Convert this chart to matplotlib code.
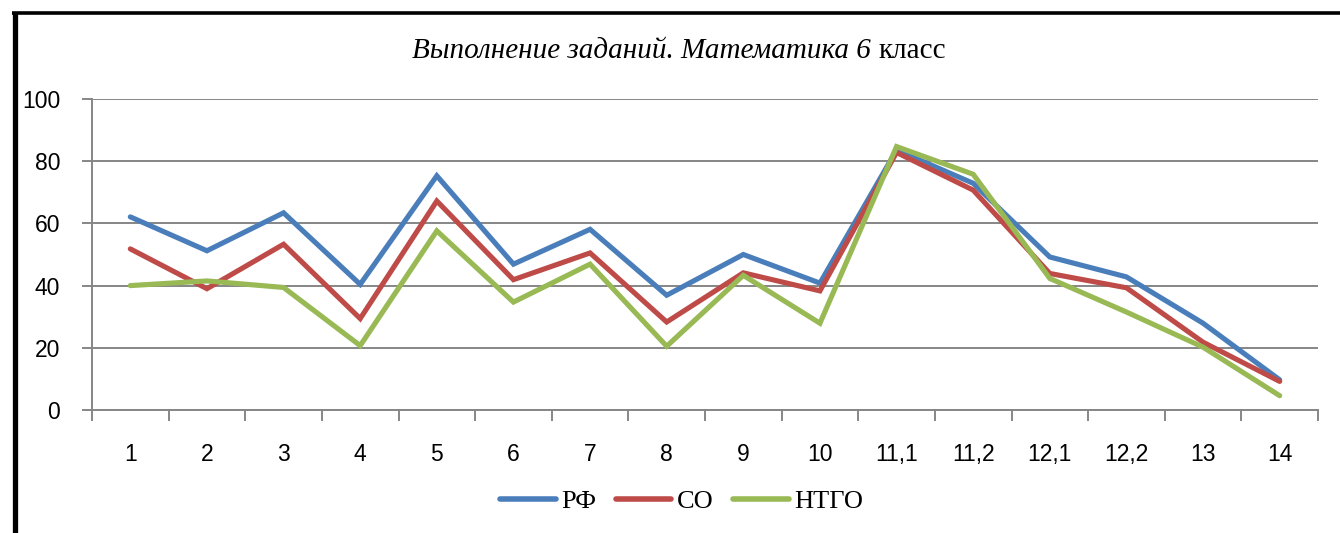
import matplotlib
matplotlib.use("Agg")
import matplotlib.pyplot as plt
from matplotlib.lines import Line2D

categories = ["1", "2", "3", "4", "5", "6", "7", "8", "9", "10",
              "11,1", "11,2", "12,1", "12,2", "13", "14"]
rf   = [62.1, 51.2, 63.4, 40.4, 75.3, 46.9, 58.1, 36.9, 50.0, 40.8,
        83.6, 72.9, 49.2, 42.8, 27.9, 9.7]
so   = [51.8, 39.0, 53.3, 29.4, 67.2, 41.9, 50.5, 28.3, 44.1, 38.3,
        82.8, 70.7, 43.9, 39.3, 21.8, 9.2]
ntgo = [40.0, 41.5, 39.4, 20.7, 57.6, 34.7, 46.9, 20.5, 43.3, 27.9,
        84.7, 75.8, 42.3, 31.5, 20.2, 4.6]
series_names = ["РФ", "СО", "НТГО"]

BLUE, RED, GREEN = "#4a7ebb", "#be4b48", "#98b954"
GRID = "#868686"
TICKFONT = "Liberation Sans"
SERIF = "Liberation Serif"

W, H = 1340, 533
fig = plt.figure(figsize=(W / 100, H / 100), dpi=100)
ax = fig.add_axes([92 / W, 1 - 410 / H, (1318 - 92) / W, (410 - 99) / H])

x = list(range(len(categories)))
for vals, col, name in zip([rf, so, ntgo], [BLUE, RED, GREEN], series_names):
    ax.plot(x, vals, color=col, lw=3.7, label=name, solid_joinstyle="miter",
            solid_capstyle="round")

ax.set_xlim(-0.5, len(categories) - 0.5)
ax.set_ylim(0, 100)
ax.set_yticks(range(0, 101, 20))
ax.yaxis.grid(True, color=GRID, lw=1.4)
ax.set_axisbelow(True)
for s in ["top", "right"]:
    ax.spines[s].set_visible(False)
for s in ["left", "bottom"]:
    ax.spines[s].set_color(GRID)
    ax.spines[s].set_linewidth(1.4)

ax.set_xticks(x)
ax.set_xticklabels(categories)
ax.set_xticks([i - 0.5 for i in range(len(categories) + 1)], minor=True)
ax.tick_params(axis="x", which="major", length=0, pad=24, labelsize=16.5)
ax.tick_params(axis="x", which="minor", length=8, width=1.4, color=GRID, direction="out")
ax.tick_params(axis="y", length=7, width=1.4, color=GRID, direction="out",
               pad=16, labelsize=16.5)
for lab in ax.get_xticklabels() + ax.get_yticklabels():
    lab.set_fontfamily(TICKFONT)

leg = ax.legend(loc="center", bbox_to_anchor=(0.481, -0.295), ncol=3, frameon=False,
                prop={"family": SERIF, "size": 19}, handlelength=2.1,
                handletextpad=0.2, columnspacing=0.75)
for h in leg.get_lines():
    h.set_linewidth(4)

# title: italic part + upright "класс", centred together
part1 = "Выполнение заданий. Математика 6 "
part2 = "класс"
ty = 1 - 51 / H
t1 = fig.text(0, ty, part1, family=SERIF, style="italic", fontsize=21, va="center")
t2 = fig.text(0, ty, part2, family=SERIF, fontsize=21, va="center")
fig.canvas.draw()
r = fig.canvas.get_renderer()
w1 = t1.get_window_extent(r).width
w2 = t2.get_window_extent(r).width
x0 = (679 - (w1 + w2) / 2) / W
t1.set_x(x0)
t2.set_x(x0 + w1 / W)

# black frame on the left and top
fig.add_artist(Line2D([14.5 / W, 14.5 / W], [0, 1 - 12 / H], color="black", lw=3.8,
                      transform=fig.transFigure, solid_capstyle="butt"))
fig.add_artist(Line2D([12.5 / W, 1], [1 - 12.5 / H, 1 - 12.5 / H], color="black", lw=2.6,
                      transform=fig.transFigure, solid_capstyle="butt"))

fig.savefig("out.png", dpi=100)
